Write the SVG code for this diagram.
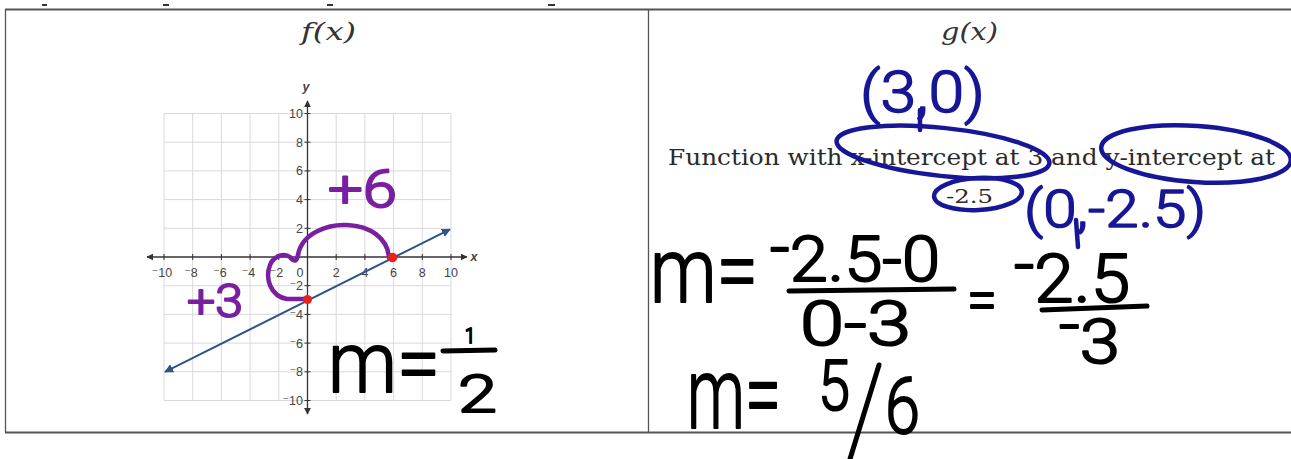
<svg xmlns="http://www.w3.org/2000/svg" width="1291" height="459" viewBox="0 0 1291 459">
<style>
.bd{stroke:#555;fill:none}
.grid line{stroke:#d9d9d9;stroke-width:1}
.ax{stroke:#333;stroke-width:1.3;fill:none}
.tk{stroke:#333;stroke-width:1}
.lab{font-family:"Liberation Sans","DejaVu Sans",sans-serif;font-size:12.5px;fill:#444}
.ttl{font-family:"DejaVu Serif",serif;font-style:italic;font-size:24px;fill:#333}
.prn{font-family:"DejaVu Serif",serif;fill:#2a2a2a}
.hw{font-family:Roboto,"DejaVu Sans",sans-serif;font-weight:300;stroke-linejoin:round}
.blk{fill:#000;stroke:#000;stroke-width:2}
.pur{fill:#7a1fa0;stroke:#7a1fa0;stroke-width:2}
.blu{fill:#161696;stroke:#161696;stroke-width:1.6}
.pk{fill:none;stroke:#000;stroke-width:5;stroke-linecap:round}
.bpk{fill:none;stroke:#161696;stroke-width:4.5;stroke-linecap:round}
.ppk{fill:none;stroke:#7a1fa0;stroke-width:4.5;stroke-linecap:round;stroke-linejoin:round}
</style>
<defs>
<marker id="ah" viewBox="0 0 10 10" refX="9" refY="5" markerWidth="7" markerHeight="7" orient="auto-start-reverse" markerUnits="userSpaceOnUse"><path d="M0,0 L10,5 L0,10 z" fill="#333"/></marker>
<marker id="bh" viewBox="0 0 10 10" refX="9" refY="5" markerWidth="9" markerHeight="9" orient="auto-start-reverse" markerUnits="userSpaceOnUse"><path d="M0,0 L10,5 L0,10 z" fill="#2c5487"/></marker>
</defs>
<rect width="1291" height="459" fill="#fff"/>
<g id="table">
<rect x="42" y="4" width="5" height="2" fill="#333"/>
<rect x="163" y="4" width="6" height="2" fill="#333"/>
<rect x="327" y="4" width="6" height="2" fill="#333"/>
<rect x="548" y="4" width="7" height="2" fill="#333"/>
<line class="bd" x1="5" y1="9.5" x2="1291" y2="9.5" stroke-width="2"/>
<line class="bd" x1="5.5" y1="9" x2="5.5" y2="432" stroke-width="1.3"/>
<line class="bd" x1="648.5" y1="9" x2="648.5" y2="432" stroke-width="1.3"/>
<line class="bd" x1="5" y1="432.5" x2="1291" y2="432.5" stroke-width="2"/>
</g>
<g id="f-cell">
<text class="ttl" x="301" y="40" textLength="55" lengthAdjust="spacingAndGlyphs">f(x)</text>
</g>
<g id="graph">
<g class="grid">
<line x1="164" y1="113.5" x2="164" y2="400.5"/><line x1="192.7" y1="113.5" x2="192.7" y2="400.5"/><line x1="221.4" y1="113.5" x2="221.4" y2="400.5"/><line x1="250.1" y1="113.5" x2="250.1" y2="400.5"/><line x1="278.8" y1="113.5" x2="278.8" y2="400.5"/><line x1="336.2" y1="113.5" x2="336.2" y2="400.5"/><line x1="364.9" y1="113.5" x2="364.9" y2="400.5"/><line x1="393.6" y1="113.5" x2="393.6" y2="400.5"/><line x1="422.3" y1="113.5" x2="422.3" y2="400.5"/><line x1="451" y1="113.5" x2="451" y2="400.5"/>
<line x1="164" y1="113.5" x2="451" y2="113.5"/><line x1="164" y1="142.2" x2="451" y2="142.2"/><line x1="164" y1="170.9" x2="451" y2="170.9"/><line x1="164" y1="199.6" x2="451" y2="199.6"/><line x1="164" y1="228.3" x2="451" y2="228.3"/><line x1="164" y1="285.7" x2="451" y2="285.7"/><line x1="164" y1="314.4" x2="451" y2="314.4"/><line x1="164" y1="343.1" x2="451" y2="343.1"/><line x1="164" y1="371.8" x2="451" y2="371.8"/><line x1="164" y1="400.5" x2="451" y2="400.5"/>
</g>
<line class="ax" x1="147" y1="257" x2="467" y2="257" marker-start="url(#ah)" marker-end="url(#ah)"/>
<line class="ax" x1="307.5" y1="101" x2="307.5" y2="414" marker-start="url(#ah)" marker-end="url(#ah)"/>
<g class="tk">
<line x1="164" y1="254" x2="164" y2="260"/><line x1="192.7" y1="254" x2="192.7" y2="260"/><line x1="221.4" y1="254" x2="221.4" y2="260"/><line x1="250.1" y1="254" x2="250.1" y2="260"/><line x1="278.8" y1="254" x2="278.8" y2="260"/><line x1="336.2" y1="254" x2="336.2" y2="260"/><line x1="364.9" y1="254" x2="364.9" y2="260"/><line x1="393.6" y1="254" x2="393.6" y2="260"/><line x1="422.3" y1="254" x2="422.3" y2="260"/><line x1="451" y1="254" x2="451" y2="260"/>
<line x1="304.5" y1="113.5" x2="310.5" y2="113.5"/><line x1="304.5" y1="142.2" x2="310.5" y2="142.2"/><line x1="304.5" y1="170.9" x2="310.5" y2="170.9"/><line x1="304.5" y1="199.6" x2="310.5" y2="199.6"/><line x1="304.5" y1="228.3" x2="310.5" y2="228.3"/><line x1="304.5" y1="285.7" x2="310.5" y2="285.7"/><line x1="304.5" y1="314.4" x2="310.5" y2="314.4"/><line x1="304.5" y1="343.1" x2="310.5" y2="343.1"/><line x1="304.5" y1="371.8" x2="310.5" y2="371.8"/><line x1="304.5" y1="400.5" x2="310.5" y2="400.5"/>
</g>
<g class="lab" text-anchor="middle">
<text x="162" y="277">⁻10</text><text x="191" y="277">⁻8</text><text x="220" y="277">⁻6</text><text x="248.5" y="277">⁻4</text><text x="276.5" y="277">⁻2</text><text x="300" y="277">0</text><text x="336.2" y="277">2</text><text x="364.9" y="277">4</text><text x="393.6" y="277">6</text><text x="422.3" y="277">8</text><text x="451" y="277">10</text>
</g>
<g class="lab" text-anchor="end">
<text x="303" y="118">10</text><text x="303" y="146.7">8</text><text x="303" y="175.4">6</text><text x="303" y="204.1">4</text><text x="303" y="232.8">2</text><text x="303" y="290.2">⁻2</text><text x="303" y="318.9">⁻4</text><text x="303" y="347.6">⁻6</text><text x="303" y="376.3">⁻8</text><text x="303" y="405">⁻10</text>
</g>
<text class="lab" x="306" y="91" text-anchor="middle" font-style="italic" font-weight="bold">y</text>
<text class="lab" x="474" y="261" text-anchor="middle" font-style="italic" font-weight="bold">x</text>
<line x1="165" y1="371.8" x2="450" y2="229.3" stroke="#2c5487" stroke-width="2" marker-start="url(#bh)" marker-end="url(#bh)"/>
<path class="ppk" d="M298,255 C302,232 330,224 347,225 C370,226 388,238 389,258"/>
<path class="ppk" d="M298,255 C297,262 294,262 290,257 C285,253 274,255 270,265 C265,278 270,296 287,299 L306,299"/>
<circle cx="307.5" cy="299.5" r="4.5" fill="#e8231d"/>
<circle cx="392.5" cy="257.5" r="4.8" fill="#e8231d"/>
</g>
<g id="f-notes">
<text class="hw pur" x="328" y="207" font-size="51" textLength="69" lengthAdjust="spacingAndGlyphs">+6</text>
<text class="hw pur" x="187" y="317" font-size="47" textLength="56" lengthAdjust="spacingAndGlyphs">+3</text>
<text class="hw blk" x="328" y="392" font-size="85" textLength="112" lengthAdjust="spacingAndGlyphs">m=</text>
<text class="hw blk" x="465" y="343" font-size="21" textLength="10" lengthAdjust="spacingAndGlyphs">1</text>
<line class="pk" x1="443" y1="351" x2="495" y2="350"/>
<text class="hw blk" x="458" y="412" font-size="51" textLength="39" lengthAdjust="spacingAndGlyphs">2</text>
</g>
<g id="g-cell">
<text class="ttl" x="941" y="40" textLength="57" lengthAdjust="spacingAndGlyphs">g(x)</text>
<text class="prn" x="668" y="165" font-size="23" textLength="607" lengthAdjust="spacingAndGlyphs">Function with x-intercept at 3 and y-intercept at</text>
<text class="prn" x="946" y="203" font-size="18" textLength="47" lengthAdjust="spacingAndGlyphs">-2.5</text>
</g>
<g id="g-notes">
<ellipse class="bpk" cx="943" cy="152" rx="107" ry="24" transform="rotate(6 943 152)"/>
<ellipse class="bpk" cx="1196" cy="154" rx="95" ry="28" transform="rotate(4 1196 154)"/>
<ellipse class="bpk" cx="978" cy="194" rx="44" ry="16" transform="rotate(-3 978 194)"/>
<text class="hw blu" x="860" y="112" font-size="58" textLength="125" lengthAdjust="spacingAndGlyphs">(3,0)</text>
<text class="hw blu" x="1024" y="227" font-size="52" textLength="182" lengthAdjust="spacingAndGlyphs">(0,-2.5)</text>
<text class="hw blk" x="650" y="302" font-size="91" textLength="108" lengthAdjust="spacingAndGlyphs">m=</text>
<text class="hw blk" x="770" y="281" font-size="63" textLength="170" lengthAdjust="spacingAndGlyphs"><tspan dy="-12">-</tspan><tspan dy="12">2.5-0</tspan></text>
<line class="pk" x1="789" y1="291" x2="954" y2="289"/>
<text class="hw blk" x="800" y="345" font-size="62" textLength="111" lengthAdjust="spacingAndGlyphs">0-3</text>
<text class="hw blk" x="967" y="320" font-size="60" textLength="30" lengthAdjust="spacingAndGlyphs">=</text>
<text class="hw blk" x="1014" y="302" font-size="67" textLength="116" lengthAdjust="spacingAndGlyphs"><tspan dy="-15">-</tspan><tspan dy="15">2.5</tspan></text>
<line class="pk" x1="1042" y1="310" x2="1147" y2="306"/>
<text class="hw blk" x="1059" y="363" font-size="62" textLength="61" lengthAdjust="spacingAndGlyphs"><tspan dy="-17">-</tspan><tspan dy="17">3</tspan></text>
<text class="hw blk" x="687" y="428" font-size="100" textLength="94" lengthAdjust="spacingAndGlyphs">m=</text>
<text class="hw blk" x="818" y="410" font-size="71" textLength="32" lengthAdjust="spacingAndGlyphs">5</text>
<line class="pk" x1="879" y1="365" x2="850" y2="459" stroke-width="4.5"/>
<text class="hw blk" x="885" y="433" font-size="77" textLength="35" lengthAdjust="spacingAndGlyphs">6</text>
</g>
<g id="connectors">
<line class="bpk" x1="920" y1="110" x2="920" y2="130" stroke-width="4"/>
<line class="bpk" x1="1076" y1="220" x2="1078" y2="247" stroke-width="4"/>
</g>
</svg>
